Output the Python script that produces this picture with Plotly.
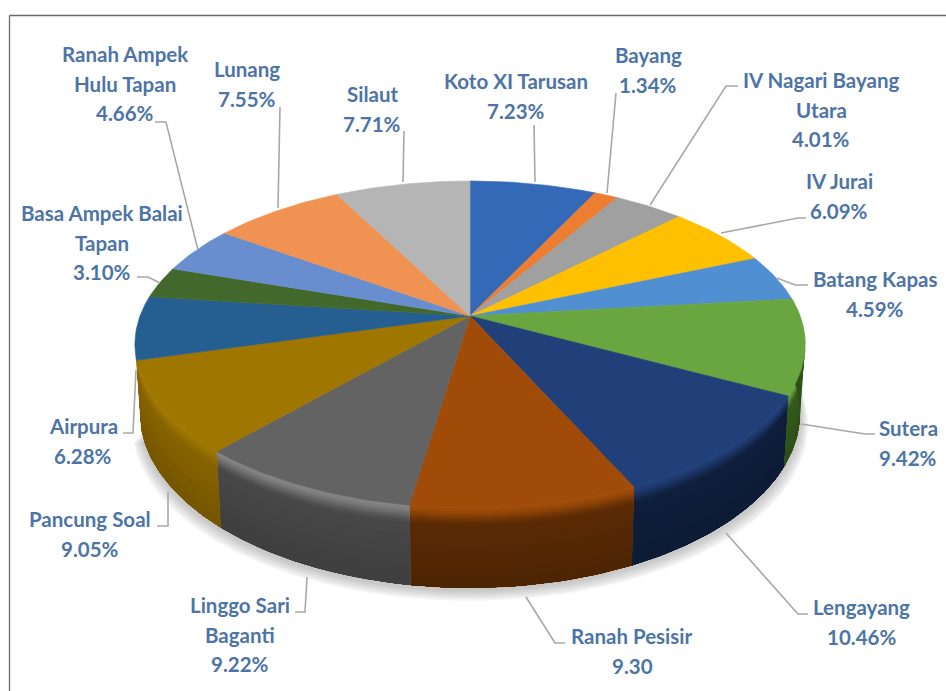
import math
import plotly.graph_objects as go

districts = ["Koto XI Tarusan", "Bayang", "IV Nagari Bayang Utara", "IV Jurai", "Batang Kapas",
             "Sutera", "Lengayang", "Ranah Pesisir", "Linggo Sari Baganti", "Pancung Soal",
             "Airpura", "Basa Ampek Balai Tapan", "Ranah Ampek Hulu Tapan", "Lunang", "Silaut"]
shares = [7.23, 1.34, 4.01, 6.09, 4.59, 9.42, 10.46, 9.30, 9.22, 9.05, 6.28, 3.10, 4.66, 7.55, 7.71]
share_labels = ["7.23%", "1.34%", "4.01%", "6.09%", "4.59%", "9.42%", "10.46%", "9.30",
                "9.22%", "9.05%", "6.28%", "3.10%", "4.66%", "7.55%", "7.71%"]
top_colors = ["#3469b8", "#ed7d31", "#a0a0a0", "#ffc000", "#4f8fd2", "#6aa640", "#213f78", "#a04c08",
              "#636363", "#9e7600", "#255e91", "#43682b", "#698ed0", "#f09252", "#b5b5b5"]
wall_colors = ["#1f3f70", "#8e4b1d", "#606060", "#997300", "#2f5a85", "#345a1c", "#0f1f3c", "#5a2a04",
               "#484848", "#876300", "#163856", "#283e19", "#3f557d", "#905a31", "#6e6e6e"]
rim_colors = ["#3469b8", "#ed7d31", "#a0a0a0", "#ffc000", "#4f8fd2", "#6aa640", "#213f78", "#a04c08",
              "#858585", "#9e7600", "#255e91", "#43682b", "#698ed0", "#f09252", "#b5b5b5"]

label_lines = [["Koto XI Tarusan"], ["Bayang"], ["IV Nagari Bayang", "Utara"], ["IV Jurai"], ["Batang Kapas"],
               ["Sutera"], ["Lengayang"], ["Ranah Pesisir"], ["Linggo Sari", "Baganti"], ["Pancung Soal"],
               ["Airpura"], ["Basa Ampek Balai", "Tapan"], ["Ranah Ampek", "Hulu Tapan"], ["Lunang"], ["Silaut"]]
label_x = [516, 648, 821, 839, 875, 908, 861, 632, 240, 90, 83, 102, 125, 247, 372]
label_y = [81, 55, 80, 181, 279, 428, 607, 636, 605, 519, 426, 213, 54, 69, 94]
LINE_PITCH = 29.5

leaders = [
    [(534, 125), (535, 182)],
    [(616, 93), (607, 193)],
    [(738, 86), (726, 86), (650, 205)],
    [(806, 218), (798, 218), (721, 233)],
    [(808, 285), (795, 285), (777, 278)],
    [(875, 434), (865, 434), (801, 424)],
    [(808, 614), (798, 614), (726, 533)],
    [(565, 643), (555, 643), (526, 597)],
    [(295, 612), (305, 612), (307, 577)],
    [(157, 526), (168, 526), (168, 492)],
    [(123, 433), (133, 433), (136, 370)],
    [(137, 277), (148, 277), (160, 283)],
    [(155, 122), (166, 122), (198, 250)],
    [(280, 107), (278, 208)],
    [(404, 131), (403, 182)],
]

CX, CY, A, B, K = 470.0, 316.0, 330.0, 158.5, 0.174
WALL = 66.0
TEXT_COLOR = "#4d74a6"
LEADER_COLOR = "#a8a8a8"
FRAME_COLOR = "#6a6a6a"


def project(theta, depth=0.0):
    """Perspective view of a point on the pie rim; depth 0 = top face, 1 = bottom face."""
    u, v = math.sin(theta), math.cos(theta)
    d = 1 + K * v
    shrink = 1 - 0.015 * depth
    return CX + A * u / d * shrink, CY - B * v / d + WALL * depth / d


def mix(c1, c2, t):
    a = [int(c1[i:i + 2], 16) for i in (1, 3, 5)]
    b = [int(c2[i:i + 2], 16) for i in (1, 3, 5)]
    return "#%02x%02x%02x" % tuple(round(a[i] + (b[i] - a[i]) * t) for i in range(3))


def arc(t0, t1, depth=0.0):
    n = max(6, int((t1 - t0) * 60))
    return [project(t0 + (t1 - t0) * i / n, depth) for i in range(n + 1)]


def poly(points, color, opacity=1.0, line=True):
    xs = [p[0] for p in points] + [points[0][0]]
    ys = [p[1] for p in points] + [points[0][1]]
    return go.Scatter(x=xs, y=ys, mode="lines", fill="toself", fillcolor=color, opacity=opacity,
                      line=dict(color=color, width=0.6 if line else 0), hoverinfo="skip", showlegend=False)


fig = go.Figure()

total = sum(shares)
angles = [0.0]
for s in shares:
    angles.append(angles[-1] + s / total * 2 * math.pi)

# soft shadow below the front of the pie
front_start, front_end = angles[5], angles[10]
for i in range(7):
    rim = arc(front_start, front_end, 1.0)
    grow = 1 + (7 - i) * 0.0035
    pts = [(CX + (x - CX) * grow, y + (7 - i) * 1.6 + 2) for x, y in rim]
    fig.add_trace(poly(pts, "#808080", opacity=0.07, line=False))

# side wall: overlapping layers, each painted from its depth down to the wall's foot,
# so a quick fade from rim to wall colour leaves no seams
FADE_STEPS = 10
FADE_DEPTH = 0.24
SLOW_STEPS = 6
for i in range(len(shares)):
    t0, t1 = angles[i], angles[i + 1]
    if min(math.cos(t0 + (t1 - t0) * q / 8) for q in range(9)) > -0.3:
        continue  # hidden behind the top face
    foot = arc(t0, t1, 1.0)[::-1]
    for j in range(FADE_STEPS):
        p = (j + 0.5) / FADE_STEPS
        color = mix(rim_colors[i], wall_colors[i], p * p * (3 - 2 * p))
        fig.add_trace(poly(arc(t0, t1, FADE_DEPTH * j / FADE_STEPS) + foot, color, line=(j == 0)))
    for j in range(SLOW_STEPS):
        d0 = FADE_DEPTH + (1 - FADE_DEPTH) * j / SLOW_STEPS
        color = mix(wall_colors[i], "#000000", 0.14 * (j + 0.5) / SLOW_STEPS)
        fig.add_trace(poly(arc(t0, t1, d0) + foot, color, line=False))

# top face
for i in range(len(shares)):
    pts = [(CX, CY)] + arc(angles[i], angles[i + 1])
    fig.add_trace(poly(pts, top_colors[i]))

shapes = [
    dict(type="line", x0=9.5, x1=946, y0=15.5, y1=15.5, line=dict(color=FRAME_COLOR, width=1.3)),
    dict(type="line", x0=9.5, x1=9.5, y0=15.5, y1=691, line=dict(color=FRAME_COLOR, width=1.3)),
]
for pts in leaders:
    path = "M " + " L ".join(f"{x} {y}" for x, y in pts)
    shapes.append(dict(type="path", path=path, line=dict(color=LEADER_COLOR, width=1.6)))

annotations = []
for i, lines in enumerate(label_lines):
    for n, text in enumerate(lines + [share_labels[i]]):
        annotations.append(dict(x=label_x[i], y=label_y[i] + n * LINE_PITCH, text=text, showarrow=False,
                                xanchor="center", yanchor="middle",
                                font=dict(family="Lato", size=20.5, color=TEXT_COLOR, weight=700)))

fig.update_layout(
    width=946, height=691, margin=dict(l=0, r=0, t=0, b=0),
    paper_bgcolor="white", plot_bgcolor="white", showlegend=False,
    xaxis=dict(range=[0, 946], visible=False, fixedrange=True),
    yaxis=dict(range=[691, 0], visible=False, fixedrange=True),
    shapes=shapes, annotations=annotations,
)

fig.write_html("out.html", post_script="document.body.style.margin='0';document.body.style.overflow='hidden';",
               config={"displayModeBar": False})
